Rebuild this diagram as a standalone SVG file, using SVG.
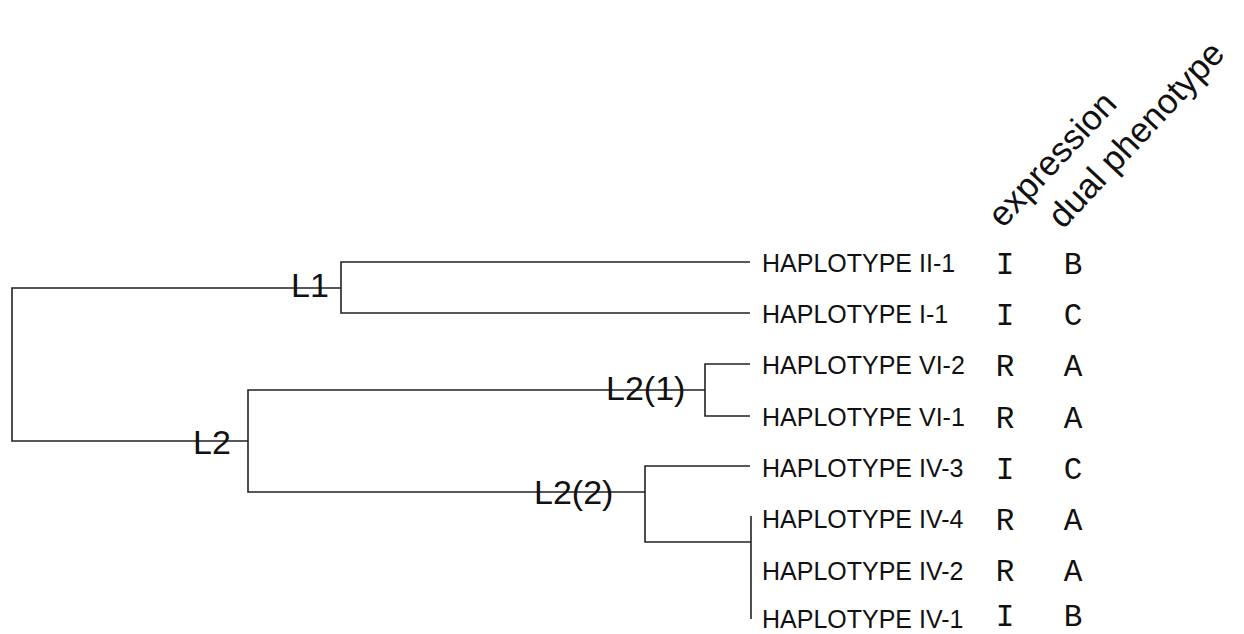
<svg xmlns="http://www.w3.org/2000/svg" width="1244" height="634" viewBox="0 0 1244 634">
<style>
.br{fill:none;stroke:#222;stroke-width:1.6}
.lab{font-family:"Liberation Sans",Arial,sans-serif;font-size:34px;fill:#111}
.hap{font-family:"Liberation Sans",Arial,sans-serif;font-size:25px;fill:#111}
.code{font-family:"Liberation Mono","Courier New",monospace;font-size:31px;fill:#111;text-anchor:middle}
.hdr{font-family:"Liberation Sans",Arial,sans-serif;font-size:35px;fill:#111}
</style>
<rect width="1244" height="634" fill="#fff"/>
<g id="connectors">
<path class="br" d="M341,288 H12 V441 H248"/>
<path class="br" d="M750,262 H341 V313 H750"/>
<path class="br" d="M705,390 H248 V492 H645"/>
<path class="br" d="M750,364 H705 V416 H750"/>
<path class="br" d="M750,466 H645 V542 H751"/>
<path class="br" d="M751,516 V619"/>
</g>
<g id="node-L1"><text class="lab" x="291" y="297">L1</text></g>
<g id="node-L2"><text class="lab" x="193" y="454">L2</text></g>
<g id="node-L2-1"><text class="lab" x="606" y="400">L2(1)</text></g>
<g id="node-L2-2"><text class="lab" x="534" y="504">L2(2)</text></g>
<g id="headers">
<text class="hdr" transform="translate(1003,229) rotate(-47)">expression</text>
<text class="hdr" transform="translate(1063,230) rotate(-47)">dual phenotype</text>
</g>
<g id="leaf-II-1"><text class="hap" x="762" y="272">HAPLOTYPE II-1</text><text class="code" x="1005" y="274">I</text><text class="code" x="1073" y="274">B</text></g>
<g id="leaf-I-1"><text class="hap" x="762" y="323">HAPLOTYPE I-1</text><text class="code" x="1005" y="325">I</text><text class="code" x="1073" y="325">C</text></g>
<g id="leaf-VI-2"><text class="hap" x="762" y="374">HAPLOTYPE VI-2</text><text class="code" x="1005" y="376">R</text><text class="code" x="1073" y="376">A</text></g>
<g id="leaf-VI-1"><text class="hap" x="762" y="426">HAPLOTYPE VI-1</text><text class="code" x="1005" y="428">R</text><text class="code" x="1073" y="428">A</text></g>
<g id="leaf-IV-3"><text class="hap" x="762" y="477">HAPLOTYPE IV-3</text><text class="code" x="1005" y="479">I</text><text class="code" x="1073" y="479">C</text></g>
<g id="leaf-IV-4"><text class="hap" x="762" y="528">HAPLOTYPE IV-4</text><text class="code" x="1005" y="530">R</text><text class="code" x="1073" y="530">A</text></g>
<g id="leaf-IV-2"><text class="hap" x="762" y="580">HAPLOTYPE IV-2</text><text class="code" x="1005" y="581">R</text><text class="code" x="1073" y="581">A</text></g>
<g id="leaf-IV-1"><text class="hap" x="762" y="628">HAPLOTYPE IV-1</text><text class="code" x="1005" y="626">I</text><text class="code" x="1073" y="626">B</text></g>
</svg>
